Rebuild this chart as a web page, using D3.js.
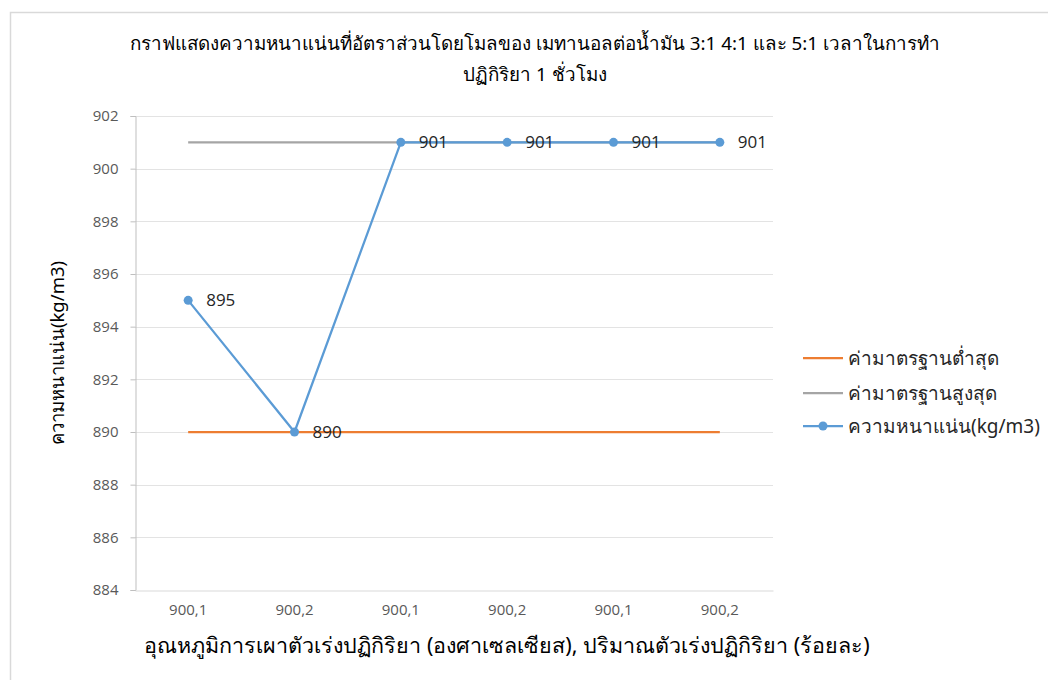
<!DOCTYPE html>
<html>
<head>
<meta charset="utf-8">
<script src="https://cdn.jsdelivr.net/npm/d3@7"></script>
<style>
  html, body { margin: 0; padding: 0; background: #fff; }
  svg { display: block; font-family: "Noto Sans", "DejaVu Sans", sans-serif; }
</style>
</head>
<body>
<svg id="chart" width="1048" height="680"></svg>
<script>
// Category labels: calcination temperature (°C), catalyst amount (%)
const categories = ["900,1", "900,2", "900,1", "900,2", "900,1", "900,2"];
const density = [895, 890, 901, 901, 901, 901];
const standardMin = [890, 890, 890, 890, 890, 890];
const standardMax = [901, 901, 901, 901, 901, 901];
const yTicks = [884, 886, 888, 890, 892, 894, 896, 898, 900, 902];

const titleLines = [
  "กราฟแสดงความหนาแน่นที่อัตราส่วนโดยโมลของ เมทานอลต่อน้ำมัน 3:1  4:1  และ 5:1 เวลาในการทำ",
  "ปฏิกิริยา 1  ชั่วโมง"
];
const yTitle = "ความหนาแน่น(kg/m3)";
const xTitle = "อุณหภูมิการเผาตัวเร่งปฏิกิริยา (องศาเซลเซียส), ปริมาณตัวเร่งปฏิกิริยา (ร้อยละ)";
const seriesNames = ["ค่ามาตรฐานต่ำสุด", "ค่ามาตรฐานสูงสุด", "ความหนาแน่น(kg/m3)"];
const colors = ["#ED7D31", "#A5A5A5", "#5B9BD5"];

const svg = d3.select("#chart");

// chart frame
svg.append("rect")
  .attr("x", 10.5).attr("y", 12.5)
  .attr("width", 1060).attr("height", 700)
  .attr("fill", "#fff").attr("stroke", "#d9d9d9").attr("stroke-width", 1.5);

const plot = { left: 135, right: 773, top: 116, bottom: 590 };

const x = d3.scaleBand().domain(d3.range(categories.length))
  .range([plot.left, plot.right]);
const y = d3.scaleLinear().domain([884, 902]).range([plot.bottom, plot.top]);
const cx = i => x(i) + x.bandwidth() / 2;

// horizontal gridlines
svg.append("g")
  .selectAll("line").data(yTicks.filter(t => t !== 884)).join("line")
  .attr("x1", plot.left).attr("x2", plot.right)
  .attr("y1", d => Math.round(y(d)) + 0.5).attr("y2", d => Math.round(y(d)) + 0.5)
  .attr("stroke", "#e3e3e3").attr("stroke-width", 1);

// y axis
const yAxis = svg.append("g")
  .attr("transform", `translate(${plot.left + 0.5},0)`)
  .call(d3.axisLeft(y).tickValues(yTicks).tickSize(5).tickPadding(12).tickFormat(d3.format("d")));
yAxis.select(".domain").attr("stroke", "#bfbfbf");
yAxis.selectAll(".tick line").attr("stroke", "#bfbfbf");
yAxis.selectAll("text").attr("fill", "#595959").attr("font-size", 15)
  .attr("font-family", "'Open Sans', 'Noto Sans', sans-serif");

// x axis
const xAxis = svg.append("g")
  .attr("transform", `translate(0,${plot.bottom + 0.5})`)
  .call(d3.axisBottom(x).tickSize(0).tickPadding(14).tickFormat(i => categories[i]));
xAxis.select(".domain").attr("stroke", "#d9d9d9");
xAxis.selectAll("text").attr("fill", "#595959").attr("font-size", 15)
  .attr("font-family", "'Open Sans', 'Noto Sans', sans-serif");

// series lines
const line = d3.line().x((d, i) => cx(i)).y(d => y(d));
[standardMin, standardMax, density].forEach((data, k) => {
  svg.append("path").datum(data)
    .attr("d", line)
    .attr("fill", "none")
    .attr("stroke", colors[k])
    .attr("stroke-width", 2.25)
    .attr("stroke-linejoin", "round");
});

// density markers
svg.append("g").selectAll("circle").data(density).join("circle")
  .attr("cx", (d, i) => cx(i)).attr("cy", d => y(d)).attr("r", 4.5)
  .attr("fill", colors[2]);

// data labels
svg.append("g").selectAll("text").data(density).join("text")
  .attr("x", (d, i) => cx(i) + 18).attr("y", d => y(d) + 6)
  .attr("font-size", 17).attr("fill", "#262626")
  .attr("font-family", "'Open Sans', 'Noto Sans', sans-serif")
  .text(d => d);

// title
svg.append("g").selectAll("text").data(titleLines).join("text")
  .attr("x", 535).attr("y", (d, i) => 50 + i * 31)
  .attr("text-anchor", "middle").attr("font-size", 18.8).attr("fill", "#000")
  .text(d => d);

// axis titles
svg.append("text")
  .attr("transform", `translate(64,${(plot.top + plot.bottom) / 2}) rotate(-90)`)
  .attr("text-anchor", "middle").attr("font-size", 18.5).attr("fill", "#000")
  .text(yTitle);
svg.append("text")
  .attr("x", 507).attr("y", 653)
  .attr("text-anchor", "middle").attr("font-size", 21.5).attr("fill", "#000")
  .text(xTitle);

// legend
const legend = svg.append("g").attr("transform", "translate(803,0)");
const rows = [358, 393, 426];
seriesNames.forEach((name, k) => {
  legend.append("line").attr("x1", 0).attr("x2", 40)
    .attr("y1", rows[k]).attr("y2", rows[k])
    .attr("stroke", colors[k]).attr("stroke-width", 2.25);
  if (k === 2) {
    legend.append("circle").attr("cx", 20).attr("cy", rows[k]).attr("r", 4.5).attr("fill", colors[k]);
  }
  legend.append("text").attr("x", 45).attr("y", rows[k] + 7)
    .attr("font-size", 19).attr("fill", "#262626").text(name);
});
</script>
</body>
</html>
